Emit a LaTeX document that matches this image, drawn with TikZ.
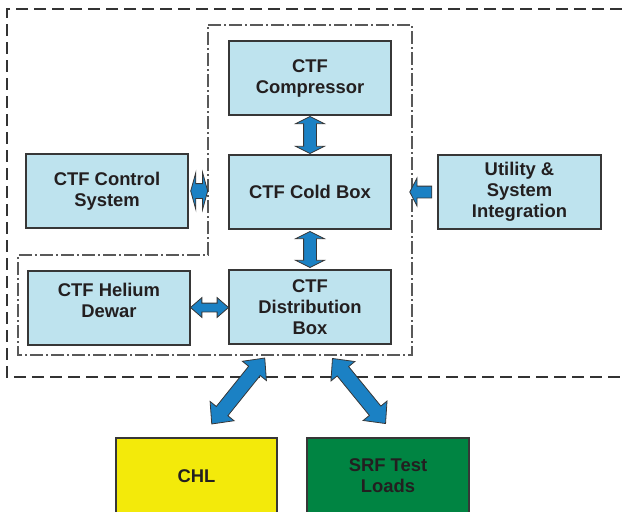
\documentclass[tikz,border=0pt]{standalone}
\usepackage{fontspec}
\setmainfont{Liberation Sans}
\usetikzlibrary{shapes.arrows,calc}

\definecolor{boxblue}{RGB}{190,227,238}
\definecolor{arrowblue}{RGB}{27,129,196}
\definecolor{chlyellow}{RGB}{243,234,10}
\definecolor{srfgreen}{RGB}{0,132,66}
\definecolor{edgegray}{RGB}{55,55,55}
\definecolor{textgray}{RGB}{35,31,32}

\begin{document}
\begin{tikzpicture}[x=1pt,y=-1pt]
  \tikzstyle{block}=[rectangle,draw=edgegray,line width=1.4pt,fill=boxblue,
              minimum width=162pt,minimum height=74pt,inner sep=0pt,align=center,
              text=textgray,font=\fontsize{18.4}{21}\selectfont\bfseries]
  \tikzstyle{link}=[double arrow,draw=edgegray,line width=0.8pt,fill=arrowblue,
              inner xsep=0pt,double arrow head indent=0pt]
  \tikzstyle{feed}=[single arrow,draw=edgegray,line width=0.8pt,fill=arrowblue,
              inner xsep=0pt,single arrow head indent=0pt]
  \tikzstyle{bound}=[draw=black!80,line width=1.8pt,dash pattern=on 12pt off 6pt]
  \tikzstyle{group}=[draw=black!65,line width=1.1pt,
              dash pattern=on 13pt off 3pt on 2pt off 3pt]

  \useasboundingbox (0,0) rectangle (625,512);
  \clip (0,0) rectangle (625,512);

  % facility boundary and cryo group
  \draw[bound] (640,9) -- (7,9) -- (7,377) -- (640,377);
  \draw[group] (208,25) -- (412,25) -- (412,355) -- (18,355) -- (18,255)
               -- (208,255) -- cycle;

    \node [block] (comp) at (310,78) {CTF\\Compressor};
    \node [block] (cold) at (310,192) {CTF Cold Box};
    \node [block] (ctrl) at (107,191) {CTF Control\\System};
    \node [block,minimum width=163pt] (util) at (519.5,192) {Utility \&\\System\\Integration};
    \node [block,text depth=16pt] (dewar) at (109,308) {CTF Helium\\Dewar};
    \node [block] (dist) at (310,307) {CTF\\Distribution\\Box};
    \node [block,fill=chlyellow,minimum width=161pt,minimum height=76pt] (chl) at (196.5,476) {CHL};
    \node [block,fill=srfgreen,minimum height=76pt] (srf) at (388,476) {SRF Test\\Loads};

  % block arrows (shaft = 2 x inner ysep)
    \node [link,rotate=90,minimum height=37pt,inner ysep=6pt,double arrow head extend=8pt,
           double arrow tip angle=127] (a1) at ($(comp.south)!0.5!(cold.north)$) {};
    \node [link,rotate=90,minimum height=36pt,inner ysep=6pt,double arrow head extend=8pt,
           double arrow tip angle=127] (a2) at ($(cold.south)!0.5!(dist.north)$) {};
    \node [link,minimum height=17pt,inner ysep=7pt,double arrow head extend=11pt,
           double arrow tip angle=149] (a3) at ([xshift=10.5pt]ctrl.east) {};
    \node [feed,rotate=180,minimum height=22pt,inner ysep=5.5pt,single arrow head extend=8pt,
           single arrow tip angle=125] (a4) at ([xshift=-15pt]util.west) {};
    \node [link,minimum height=38pt,inner ysep=4pt,double arrow head extend=5.5pt,
           double arrow tip angle=82] (a5) at ($(dewar.east)!0.5!(dist.west)$) {};
    \node [link,rotate=51.2,minimum height=84.6pt,inner ysep=7pt,double arrow head extend=8pt,
           double arrow tip angle=86] (a6) at ($(dist.south)!0.5!(chl.north)+(-15,0)$) {};
    \node [link,rotate=-50.8,minimum height=84pt,inner ysep=7pt,double arrow head extend=8pt,
           double arrow tip angle=86] (a7) at ($(dist.south)!0.5!(srf.north)+(10,0)$) {};
\end{tikzpicture}
\end{document}
